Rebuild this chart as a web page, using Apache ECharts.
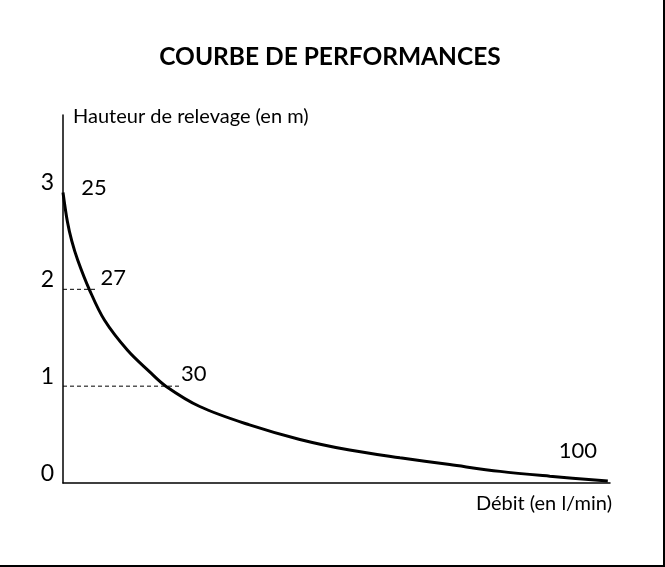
<!DOCTYPE html>
<html>
<head>
<meta charset="utf-8">
<script src="https://cdn.jsdelivr.net/npm/echarts@6/dist/echarts.min.js"></script>
<style>
  html, body { margin: 0; padding: 0; background: #fff; }
  #chart { width: 665px; height: 567px; }
</style>
</head>
<body>
<div id="chart"></div>
<script>
// position along the flow axis (0..100, no ticks shown) and lift height (m)
const curveX = [0, 0.8, 1.6, 2.7, 4.8, 7.6, 11.8, 15.8, 18.8, 25.0, 34.1, 43.3, 52.4, 61.6, 70.7, 79.9, 89.0, 99.6]
const curveY = [3.0, 2.7, 2.5, 2.3, 2.0, 1.68, 1.37, 1.15, 1.0, 0.79, 0.6, 0.45, 0.34, 0.26, 0.19, 0.12, 0.07, 0.02]

// labelled points (flow in l/min)
const pointX = [0, 4.8, 18.8, 99.6]
const pointY = [3, 2, 1, 0.02]
const pointLabels = ['25', '27', '30', '100']

// dashed guide lines from the y axis
const guideLevels = [2, 1]
const guideEnds = [6.2, 21.7]

const yTicks = [0, 1, 2, 3]

const font = 'Lato, "Liberation Sans", sans-serif'
const chart = echarts.init(document.getElementById('chart'))

// offsets for each point label [dx, dy]
const labelOffsets = [[31, -5], [24, -11], [28, -12], [-30, -30]]

const series = [
  {
    type: 'line',
    data: curveX.map((x, i) => [x, curveY[i]]),
    smooth: 0.35,
    symbol: 'none',
    lineStyle: { color: '#000', width: 3 },
    z: 5,
  },
  {
    type: 'scatter',
    data: pointX.map((x, i) => ({
      value: [x, pointY[i]],
      label: {
        show: true,
        formatter: pointLabels[i],
        position: 'inside',
        offset: labelOffsets[i],
        color: '#000',
        fontSize: 22,
        fontFamily: font,
      },
    })),
    symbolSize: 0,
    itemStyle: { opacity: 1 },
    z: 6,
  },
]
guideLevels.forEach((lv, i) => {
  series.push({
    type: 'line',
    data: [[0, lv], [guideEnds[i], lv]],
    symbol: 'none',
    lineStyle: { color: '#000', width: 1, type: [4, 3] },
    z: 4,
  })
})

chart.setOption({
  animation: false,
  title: {
    text: 'COURBE DE PERFORMANCES',
    left: 325,
    textAlign: 'center',
    top: 40,
    textStyle: { fontFamily: font, fontWeight: 'bold', fontSize: 24.5, color: '#000' },
  },
  grid: { left: 63, right: 55, top: 115, bottom: 84 },
  xAxis: {
    type: 'value',
    min: 0,
    max: 100,
    name: 'Débit (en l/min)',
    nameLocation: 'end',
    nameGap: 2,
    nameTextStyle: {
      fontFamily: font, fontSize: 20, color: '#000',
      align: 'right', verticalAlign: 'top', padding: [11, 0, 0, 0],
    },
    axisLine: { lineStyle: { color: '#000', width: 1.5 } },
    axisTick: { show: false },
    axisLabel: { show: false },
    splitLine: { show: false },
  },
  yAxis: {
    type: 'value',
    min: 0,
    max: 3.8,
    interval: 1,
    name: 'Hauteur de relevage (en m)',
    nameLocation: 'end',
    nameGap: -12,
    nameTextStyle: {
      fontFamily: font, fontSize: 20, color: '#000',
      align: 'left', padding: [0, 0, 0, 10],
    },
    axisLine: { show: true, lineStyle: { color: '#000', width: 1.5 } },
    axisTick: { show: false },
    splitLine: { show: false },
    axisLabel: {
      fontFamily: font, fontSize: 23, color: '#000', margin: 9,
      verticalAlign: 'bottom', padding: [0, 0, -2, 0],
      formatter: v => (yTicks.includes(v) ? String(v) : ''),
    },
  },
  graphic: [
    { type: 'rect', shape: { x: 663, y: 0, width: 2, height: 567 }, style: { fill: '#000' } },
    { type: 'rect', shape: { x: 0, y: 565, width: 665, height: 2 }, style: { fill: '#000' } },
  ],
  series,
})
</script>
</body>
</html>
